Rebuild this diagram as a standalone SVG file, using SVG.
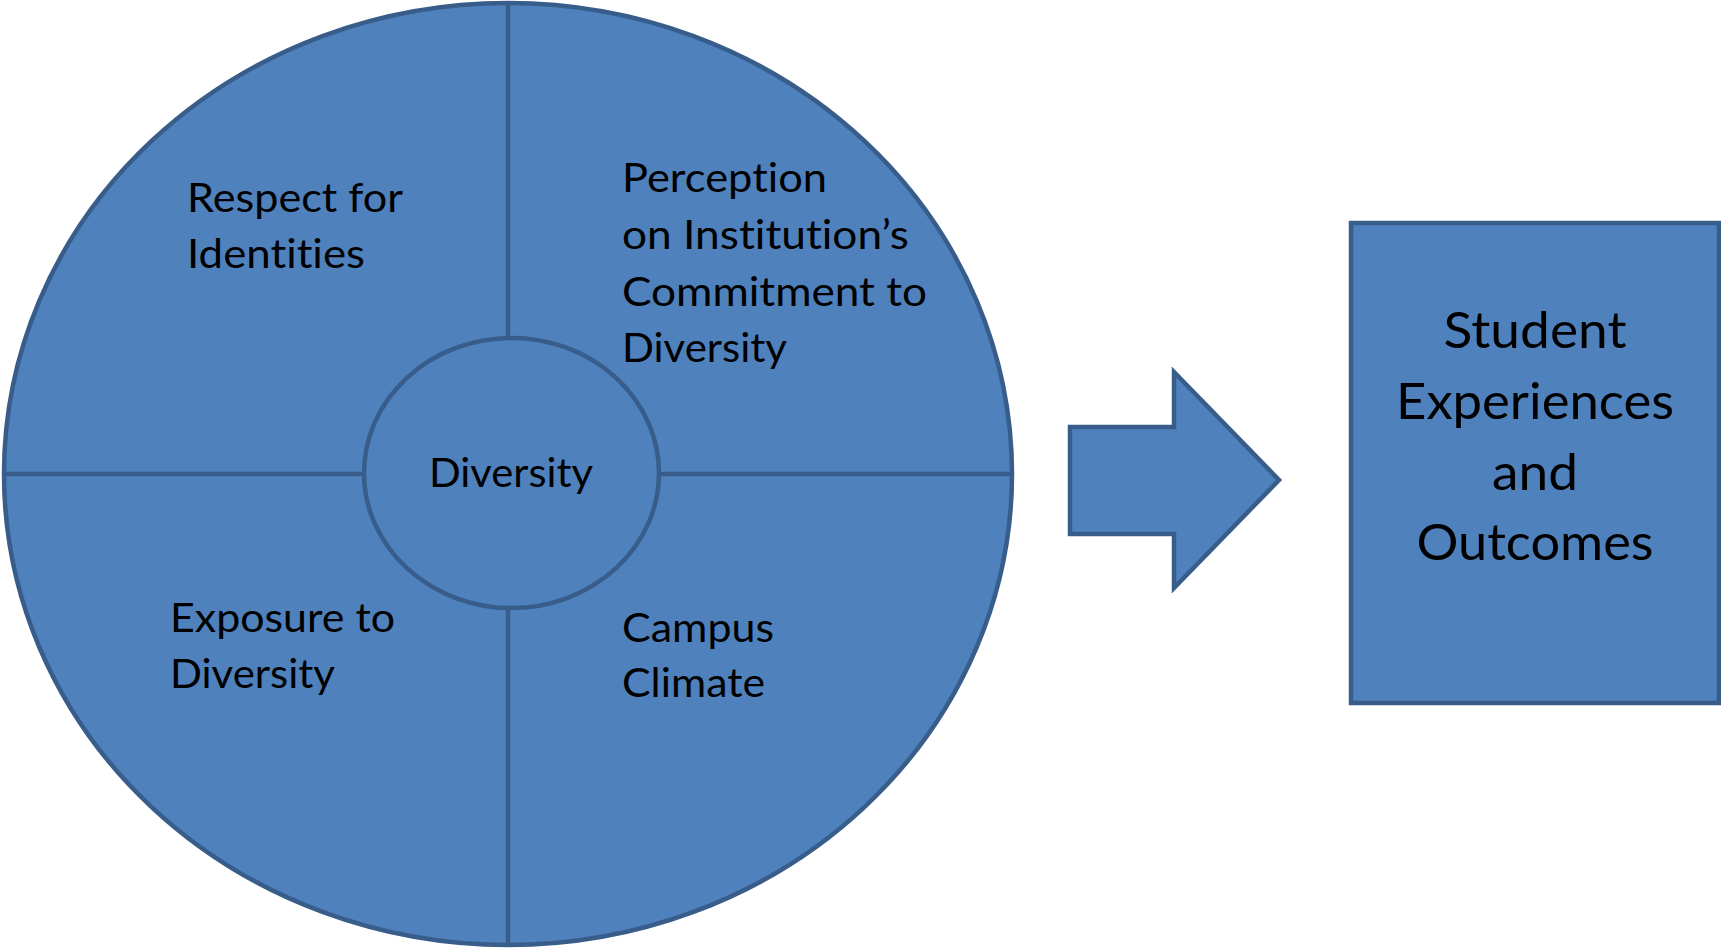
<svg xmlns="http://www.w3.org/2000/svg" width="1721" height="949" viewBox="0 0 1721 949">
<style>
.shape{fill:#4f81bd;stroke:#385d8a;stroke-width:4.5}
.line{stroke:#385d8a;stroke-width:4.5;fill:none}
.t{font-family:Lato,"Open Sans","Liberation Sans",sans-serif;font-size:41px;fill:#000;font-variant-ligatures:none;font-feature-settings:"liga" 0}
.tb{font-family:Lato,"Open Sans","Liberation Sans",sans-serif;font-size:50px;fill:#000;text-anchor:middle;font-variant-ligatures:none;font-feature-settings:"liga" 0}
</style>
<rect width="1721" height="949" fill="#fff"/>
<g id="outer-circle">
<ellipse class="shape" cx="508" cy="474" rx="504" ry="471"/>
</g>
<g id="connectors">
<line class="line" x1="5" y1="474" x2="364" y2="474"/>
<line class="line" x1="659" y1="474" x2="1012" y2="474"/>
<line class="line" x1="508" y1="3" x2="508" y2="338"/>
<line class="line" x1="508" y1="608" x2="508" y2="945"/>
</g>
<g id="respect">
<text class="t" x="187" y="212" textLength="216" lengthAdjust="spacingAndGlyphs">Respect for</text>
<text class="t" x="187" y="268" textLength="178" lengthAdjust="spacingAndGlyphs">Identities</text>
</g>
<g id="perception">
<text class="t" x="622" y="192" textLength="205" lengthAdjust="spacingAndGlyphs">Perception</text>
<text class="t" x="622" y="249" textLength="287" lengthAdjust="spacingAndGlyphs">on Institution’s</text>
<text class="t" x="622" y="306" textLength="305" lengthAdjust="spacingAndGlyphs">Commitment to</text>
<text class="t" x="622" y="362" textLength="165" lengthAdjust="spacingAndGlyphs">Diversity</text>
</g>
<g id="exposure">
<text class="t" x="170" y="632" textLength="225" lengthAdjust="spacingAndGlyphs">Exposure to</text>
<text class="t" x="170" y="688" textLength="165" lengthAdjust="spacingAndGlyphs">Diversity</text>
</g>
<g id="campus">
<text class="t" x="622" y="642" textLength="152" lengthAdjust="spacingAndGlyphs">Campus</text>
<text class="t" x="622" y="697" textLength="143" lengthAdjust="spacingAndGlyphs">Climate</text>
</g>
<g id="diversity">
<ellipse class="shape" cx="511.5" cy="473" rx="147.5" ry="135"/>
<text class="t" x="429" y="487" textLength="164" lengthAdjust="spacingAndGlyphs">Diversity</text>
</g>
<g id="arrow">
<polygon class="shape" stroke-width="5" points="1070,427 1174,427 1174,372 1279,480 1174,588 1174,534 1070,534"/>
</g>
<g id="outcomes">
<rect class="shape" x="1351" y="223" width="368" height="480"/>
<text class="tb" x="1535" y="348" textLength="183" lengthAdjust="spacingAndGlyphs">Student</text>
<text class="tb" x="1535" y="419" textLength="278" lengthAdjust="spacingAndGlyphs">Experiences</text>
<text class="tb" x="1535" y="490" textLength="86" lengthAdjust="spacingAndGlyphs">and</text>
<text class="tb" x="1535" y="560" textLength="237" lengthAdjust="spacingAndGlyphs">Outcomes</text>
</g>
</svg>
